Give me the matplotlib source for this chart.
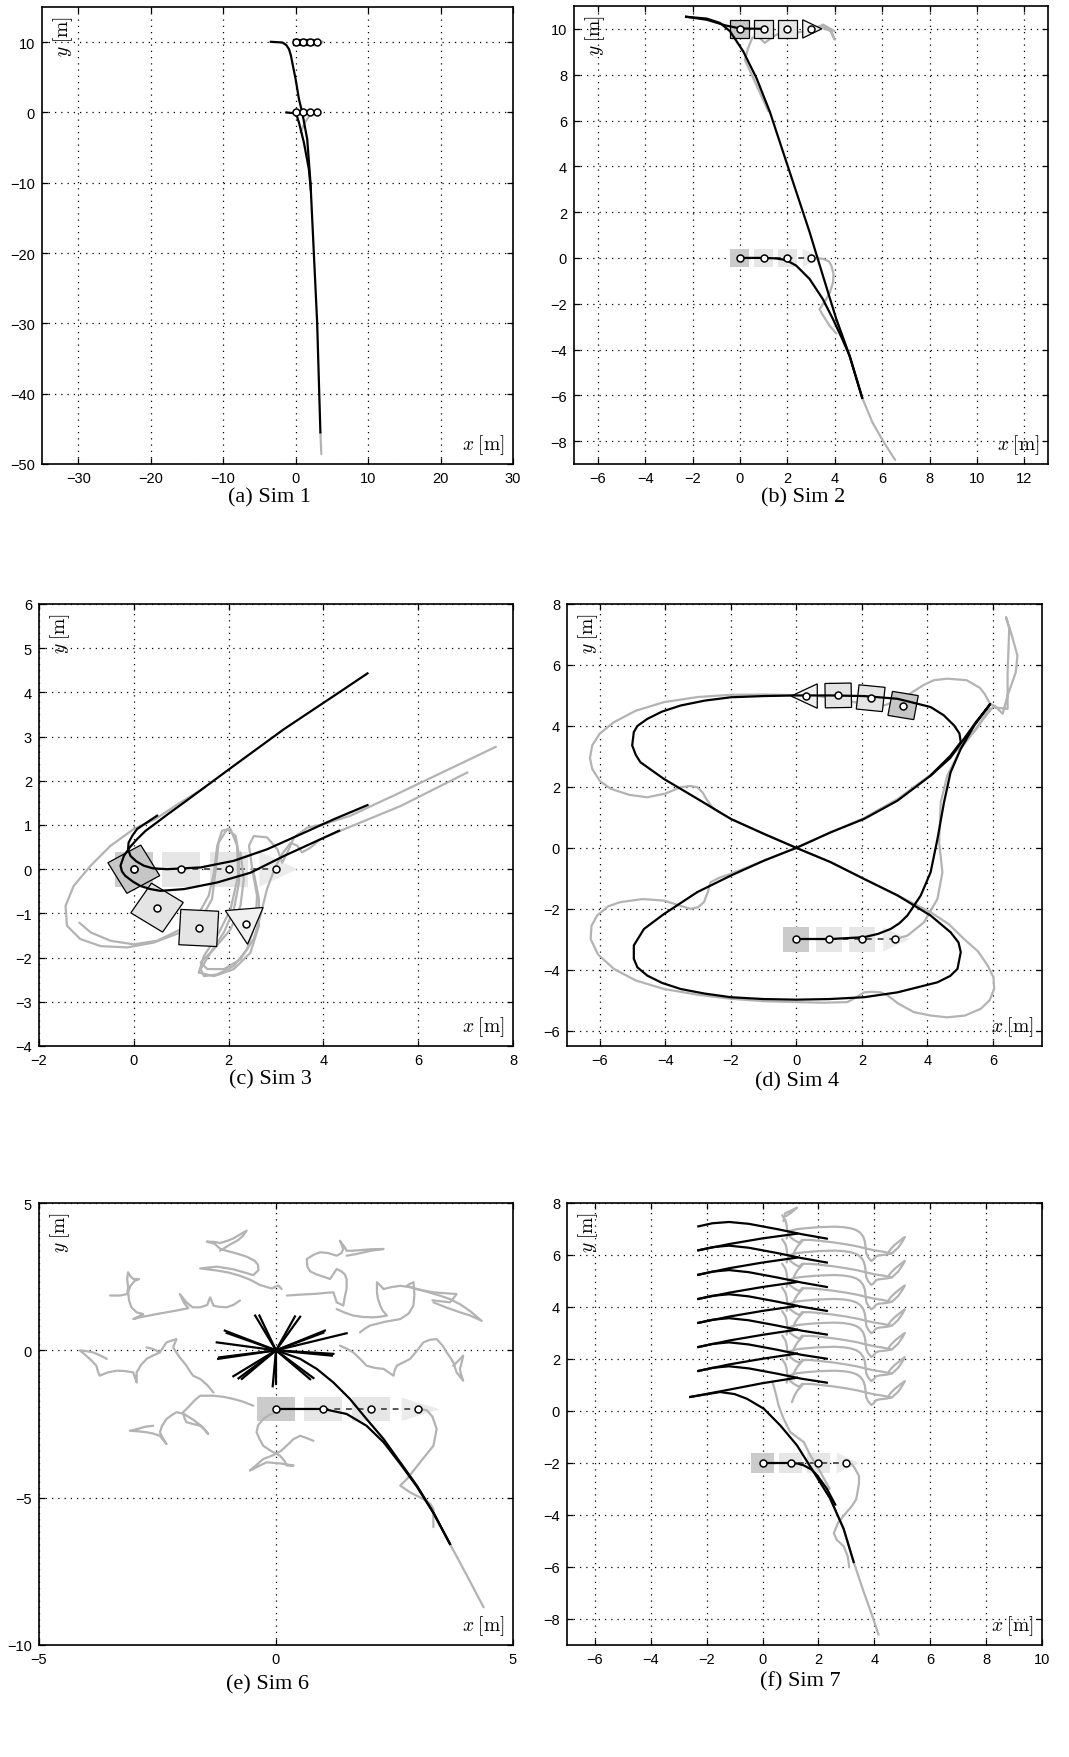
import numpy as np
import matplotlib
matplotlib.use("Agg")
import matplotlib.pyplot as plt
from matplotlib.patches import Polygon

plt.rcParams['font.family'] = ['Liberation Sans', 'DejaVu Sans']
plt.rcParams['mathtext.fontset'] = 'cm'

GRAY = '#b3b3b3'
LW = 1.6

# ---------------- (a) Sim 1 ----------------
a_black1_x = [-3.42, -1.83, -1.3, -0.91, -0.65, -0.46, 0.0, 0.46, 0.91, 1.6, 2.05, 2.51, 2.97, 3.42]
a_black1_y = [10.05, 9.95, 9.6, 9.0, 8.1, 7.1, 4.74, 1.9, 0.0, -3.79, -9.95, -19.9, -29.86, -45.5]
a_black2_x = [-1.28, -0.23, 0.2, 0.46, 1.14, 1.83, 2.1]
a_black2_y = [0.0, -0.1, -0.6, -1.42, -4.27, -8.06, -11.0]
a_gray1_x = [3.42, 3.55]
a_gray1_y = [-45.5, -48.6]
a_gray2_x = [0.2, 1.0, 2.0, 3.0, 3.6, 3.2, 2.5, 3.7]
a_gray2_y = [9.6, 10.3, 10.2, 10.1, 9.9, 9.6, 9.8, 10.1]
a_gray3_x = [0.68, 1.2, 1.8, 2.3, 2.9, 3.3]
a_gray3_y = [-2.84, -1.6, -0.6, 0.0, 0.3, 0.1]
a_init = ([0, 1, 2, 3], [0, 0, 0, 0], [0, 0, 0, 0])
a_final = ([0, 1, 2, 3], [10, 10, 10, 10], [0, 0, 0, 0])

# ---------------- (b) Sim 2 ----------------
b_black1_x = [-2.27, -1.4, -0.84, -0.42, 0.14, 0.70, 1.26, 1.82, 2.38, 2.94, 3.50, 4.07, 4.63, 5.16]
b_black1_y = [10.53, 10.45, 10.26, 9.90, 9.02, 7.85, 6.39, 4.63, 2.88, 1.13, -0.77, -2.68, -4.28, -6.11]
b_black2_x = [-2.27, -1.4, -0.6, 0.0, 1.1]
b_black2_y = [10.53, 10.4, 10.15, 10.02, 10.0]
b_black3_x = [0.0, 0.98, 1.5, 1.82, 2.1, 2.38, 2.94, 3.5, 3.93, 4.3, 4.63, 5.16]
b_black3_y = [0.0, 0.0, -0.02, -0.07, -0.18, -0.34, -0.92, -1.8, -2.68, -3.5, -4.28, -6.11]
b_gray1_x = [4.07, 4.63, 5.16, 5.6, 6.1, 6.55]
b_gray1_y = [-2.68, -4.28, -6.11, -7.2, -8.1, -8.82]
b_gray2_x = [3.0, 3.5, 3.75, 3.86, 3.95, 3.93, 3.8, 3.64, 3.36, 3.5, 3.79, 4.07]
b_gray2_y = [0.0, -0.04, -0.15, -0.34, -0.7, -1.07, -1.5, -1.8, -2.24, -2.5, -2.97, -3.3]
b_gray3_x = [1.2, 0.85, 0.5, 0.21, 0.35, 0.53, 0.84, 1.05, 1.19, 1.54, 2.24, 2.8, 3.36, 3.79, 4.0, 3.86, 3.5, 3.08, 3.5, 4.0]
b_gray3_y = [6.4, 7.2, 8.0, 8.65, 9.17, 9.63, 9.6, 9.39, 9.5, 9.75, 9.82, 9.9, 10.12, 9.97, 9.53, 9.9, 10.04, 9.9, 10.19, 9.9]
b_init = ([0, 1, 2, 3], [0, 0, 0, 0], [0, 0, 0, 0])
b_final = ([0, 1, 2, 3], [10, 10, 10, 10], [0, 0, 0, 0])

# ---------------- (c) Sim 3 ----------------
c_black1_x = [4.93, 4.22, 3.17, 2.11, 1.06, 0.7, 0.49, 0.25, 0.07, -0.08, -0.21, -0.28, -0.25, -0.18, -0.02, 0.14,
              0.35, 0.56, 1.06, 1.76, 2.46, 3.17, 4.33]
c_black1_y = [4.43, 3.92, 3.17, 2.34, 1.51, 1.23, 1.06, 0.87, 0.68, 0.5, 0.30, 0.08, -0.05, -0.15, -0.28, -0.38,
              -0.45, -0.49, -0.45, -0.30, -0.08, 0.30, 0.87]
c_black2_x = [4.93, 4.22, 3.52, 2.81, 2.11, 1.41, 0.70, 0.4, 0.21, 0.05, -0.07, -0.12, -0.11, -0.03, 0.07, 0.49]
c_black2_y = [1.45, 1.13, 0.79, 0.45, 0.19, 0.04, 0.00, 0.02, 0.08, 0.18, 0.30, 0.45, 0.60, 0.76, 0.91, 1.21]
c_gray1_x = [1.5, 0.9, 0.45, 0.0, -0.49, -0.91, -1.27, -1.44, -1.41, -1.13, -0.7, -0.14, 0.42, 0.99, 1.41, 1.65,
             1.72, 1.79, 1.97, 2.15, 2.22, 2.22, 2.11, 1.9, 1.62, 1.41, 1.48, 1.76, 2.11, 2.39, 2.57, 2.6, 2.5,
             2.43, 2.53, 2.81, 3.03, 3.13, 3.24, 3.38, 3.66, 4.01, 4.57, 5.63, 7.64]
c_gray1_y = [1.85, 1.45, 1.13, 0.91, 0.53, 0.08, -0.38, -0.83, -1.28, -1.58, -1.74, -1.77, -1.66, -1.43, -1.13,
             -0.68, -0.08, 0.6, 0.91, 0.75, 0.3, -0.3, -0.91, -1.43, -1.89, -2.26, -2.42, -2.38, -2.19, -1.81,
             -1.21, -0.6, 0.0, 0.53, 0.75, 0.72, 0.45, 0.15, 0.38, 0.72, 0.94, 1.02, 1.21, 1.74, 2.77]
c_gray2_x = [7.04, 5.63, 4.36, 3.94, 3.73, 3.55, 3.45, 3.31, 3.1, 2.95, 2.81, 2.67, 2.53, 2.25, 1.9, 1.55, 1.41,
             1.69, 2.04, 2.25, 2.32, 2.25]
c_gray2_y = [2.19, 1.43, 0.87, 0.68, 0.49, 0.38, 0.53, 0.6, 0.3, -0.05, -0.45, -1.06, -1.58, -2.04, -2.26, -2.26,
             -2.11, -1.81, -1.36, -0.83, -0.23, 0.38]
c_gray3_x = [-1.15, -0.91, -0.49, 0.0, 0.49, 0.99, 1.34, 1.58, 1.69, 1.76, 1.86, 2.04, 2.18, 2.2, 2.04, 1.76,
             1.48, 1.37, 1.69, 2.11, 2.46, 2.64, 2.64, 2.53]
c_gray3_y = [-1.21, -1.43, -1.62, -1.7, -1.62, -1.36, -1.06, -0.6, -0.08, 0.53, 0.87, 0.91, 0.53, -0.15, -0.91,
             -1.51, -1.96, -2.34, -2.42, -2.26, -1.89, -1.28, -0.68, -0.08]
c_init = ([0, 1, 2, 3], [0, 0, 0, 0], [0, 0, 0, 0])
c_final = ([0.0, 0.49, 1.37, 2.36], [0.0, -0.87, -1.33, -1.25], [30, -33, -3, -85])

# ---------------- (d) Sim 4 ----------------
d_eight_x = [0, 1.05, 2.07, 3.09, 4.1, 4.71, 5.02, 4.98, 4.82, 4.5, 4.1, 3.09, 2.07, 1.05, 0, -1.0, -2.0, -2.8,
             -3.53, -4.1, -4.55, -4.85, -4.96, -5.01, -4.9, -4.76, -4.04, -3.02, -2.0, -0.99, 0, 1.05, 2.07, 3.09,
             4.1, 4.71, 4.95, 5.02, 4.92, 4.7, 4.31, 3.09, 2.07, 1.0, 0, -1.0, -2.0, -2.8, -3.53, -4.1, -4.55,
             -4.85, -4.96, -4.96, -4.65, -4.04, -3.02, -2.0, -0.99, 0]
d_eight_y = [0, 0.51, 0.95, 1.55, 2.37, 3.03, 3.47, 3.75, 4.01, 4.35, 4.62, 4.89, 4.98, 5.0, 5.0, 4.98, 4.94,
             4.83, 4.67, 4.47, 4.23, 4.0, 3.8, 3.36, 3.05, 2.81, 2.26, 1.61, 0.95, 0.46, 0, -0.47, -1.02, -1.56,
             -2.22, -2.77, -3.1, -3.42, -3.97, -4.2, -4.41, -4.74, -4.9, -4.96, -4.98, -4.96, -4.9, -4.78, -4.63,
             -4.43, -4.19, -3.92, -3.64, -3.2, -2.66, -2.17, -1.45, -0.91, -0.42, 0]
d_start_x = [0, 1.05, 2.07, 2.5, 2.88, 3.15, 3.39, 3.8, 4.1, 4.31, 4.51, 4.71, 5.02, 5.43, 5.92, 5.5, 5.1, 4.7, 4.1]
d_start_y = [-2.99, -2.99, -2.93, -2.82, -2.66, -2.47, -2.22, -1.56, -0.8, 0.3, 1.5, 2.48, 3.25, 4.01, 4.72, 4.15,
             3.55, 2.95, 2.37]
d_gray_x = [3.01, 3.39, 3.9, 4.31, 4.46, 4.36, 4.41, 4.61, 5.02, 5.63, 6.04, 6.3, 6.45, 6.7, 6.75, 6.55, 6.4, 6.5,
            6.45, 6.45, 6.1, 5.9, 5.75, 5.6, 5.2, 4.61, 4.2, 3.9, 3.6, 3.4, 3.0, 2.7, 2.4, 2.0, 1.5, 0.5, -1.0,
            -2.0, -3.0, -4.04, -4.9, -5.57, -6.0, -6.23, -6.3, -6.23, -6.0, -5.67, -5.1, -4.55, -4.0, -3.53,
            -3.25, -3.02, -2.85, -2.75, -2.6, -2.52, -2.0, -0.99, 0, 1.05, 2.07, 3.09, 4.1, 4.65, 5.12, 5.55,
            5.84, 6.02, 6.04, 5.9, 5.63, 5.15, 4.61, 4.1, 3.59, 3.1, 2.8, 2.58, 2.3, 2.07, 1.8, 1.56, 0.8, 0.03,
            -1.0, -2.0, -3.0, -4.04, -4.9, -5.57, -6.05, -6.28, -6.25, -6.08, -5.75, -5.37, -4.7, -4.04, -3.6,
            -3.23, -3.0, -2.82, -2.7, -2.62, -2.35, -2.0, -0.99, 0, 1.05, 2.07, 3.09, 4.1, 4.9, 5.5, 5.9]
d_gray_y = [-2.99, -2.88, -2.44, -1.67, -0.8, 0.19, 1.5, 2.37, 3.25, 4.12, 4.67, 4.4, 5.0, 5.76, 6.31, 7.08,
            7.57, 7.2, 5.76, 4.56, 4.6, 4.75, 5.05, 5.25, 5.5, 5.55, 5.5, 5.35, 5.15, 5.0, 4.8, 4.68, 4.65, 4.72,
            4.85, 5.0, 5.03, 5.02, 4.95, 4.78, 4.5, 4.12, 3.75, 3.36, 2.95, 2.59, 2.2, 1.94, 1.74, 1.66, 1.78,
            1.99, 2.03, 1.99, 1.8, 1.61, 1.38, 1.28, 0.95, 0.46, 0, -0.47, -1.02, -1.56, -2.11, -2.5, -2.99,
            -3.4, -3.86, -4.25, -4.63, -5.0, -5.28, -5.5, -5.56, -5.5, -5.39, -5.1, -4.85, -4.74, -4.72, -4.74,
            -4.92, -5.06, -5.08, -5.06, -5.03, -4.95, -4.82, -4.63, -4.35, -3.97, -3.5, -2.99, -2.55, -2.22,
            -1.92, -1.78, -1.68, -1.73, -1.88, -2.0, -1.95, -1.78, -1.45, -1.13, -0.98, -0.85, -0.42, 0, 0.51,
            0.98, 1.6, 2.4, 3.2, 3.9, 4.6]
d_init = ([0, 1, 2, 3], [-3, -3, -3, -3], [0, 0, 0, 0])
d_final = ([3.26, 2.27, 1.28, 0.29], [4.67, 4.91, 5.0, 4.98], [-10, -6, 1, 180])

# ---------------- (e) Sim 6 ----------------
e_star_x = [-0.44, -0.35, 0.40, 0.51, -1.08, -1.04, -1.25, 1.03, 1.00, 1.49, 1.21, 1.18, -1.22, -1.20, -0.90,
            -0.79, -0.72, 0.79, 0.72, -0.07, 0.00]
e_star_y = [1.18, 1.18, 1.15, 1.14, 0.67, 0.59, 0.27, 0.67, 0.60, 0.58, -0.12, -0.18, -0.29, -0.24, -0.88,
            -0.95, -0.97, -0.94, -0.98, -1.22, -1.14]
e_black1_x = [0, 0.51, 0.86, 1.21, 1.56, 1.91, 2.27, 2.62, 2.97, 3.32, 3.67]
e_black1_y = [0, -0.29, -0.63, -1.09, -1.65, -2.33, -3.01, -3.80, -4.59, -5.50, -6.57]
e_black2_x = [0, 1.0, 1.49, 1.91, 2.27, 2.62, 2.97, 3.32, 3.67]
e_black2_y = [-1.99, -1.99, -2.16, -2.56, -3.12, -3.85, -4.62, -5.52, -6.57]
e_gray_paths = [
    [(-0.76, 1.69), (-0.9, 1.54), (-1.04, 1.46), (-1.22, 1.48), (-1.32, 1.52), (-1.39, 1.8), (-1.45, 1.54),
     (-1.6, 1.46), (-1.76, 1.46), (-1.89, 1.63), (-2.03, 1.91), (-1.94, 1.61), (-1.85, 1.43), (-2.1, 1.35),
     (-2.52, 1.23), (-2.87, 1.12), (-3.01, 1.06), (-2.8, 1.23), (-2.94, 1.29), (-3.05, 1.46), (-3.1, 1.69),
     (-3.12, 1.97), (-3.07, 2.19), (-2.98, 2.36), (-2.89, 2.42), (-3.01, 2.42), (-3.08, 2.53), (-3.12, 2.65),
     (-3.14, 2.42), (-3.12, 2.14), (-3.14, 1.91), (-3.29, 1.86), (-3.5, 1.86)],
    [(0.12, 2.08), (0.05, 2.2), (-0.09, 2.1), (-0.2, 2.15), (-0.34, 2.22), (-0.55, 2.4), (-0.76, 2.53),
     (-1.0, 2.64), (-1.25, 2.71), (-1.6, 2.78), (-1.25, 2.84), (-0.9, 2.75), (-0.62, 2.62), (-0.48, 2.55),
     (-0.37, 2.72), (-0.38, 2.9), (-0.45, 3.04), (-0.62, 3.18), (-0.86, 3.3), (-1.05, 3.38), (-1.18, 3.45),
     (-1.3, 3.62), (-1.46, 3.69), (-1.3, 3.68), (-1.18, 3.64), (-1.02, 3.72), (-0.9, 3.8), (-0.74, 3.95),
     (-0.62, 4.06), (-0.7, 3.88), (-0.8, 3.74), (-0.98, 3.58), (-1.18, 3.38)],
    [(0.23, 1.86), (0.51, 1.89), (0.86, 1.92), (1.05, 1.95), (1.21, 1.97), (1.25, 1.78), (1.28, 1.63),
     (1.42, 1.52), (1.45, 1.8), (1.49, 2.1), (1.49, 2.42), (1.45, 2.58), (1.38, 2.68), (1.28, 2.76), (1.14, 2.42),
     (1.0, 2.5), (0.85, 2.58), (0.72, 2.68), (0.66, 2.85), (0.65, 3.1), (0.8, 3.25), (0.93, 3.33), (1.1, 3.3),
     (1.28, 3.21), (1.38, 3.3), (1.42, 3.44), (1.35, 3.72), (1.45, 3.5), (1.49, 3.38), (1.62, 3.38), (1.77, 3.4),
     (2.0, 3.43), (2.27, 3.44), (2.0, 3.38), (1.7, 3.27), (1.49, 3.21)],
    [(1.28, 1.4), (1.45, 1.28), (1.63, 1.18), (1.85, 1.13), (2.05, 1.12), (2.2, 1.14), (2.34, 1.18), (2.25, 1.35),
     (2.2, 1.52), (2.15, 1.75), (2.13, 1.97), (2.13, 2.31), (2.2, 2.2), (2.27, 2.08), (2.45, 2.15), (2.62, 2.19),
     (2.8, 2.15), (2.97, 2.08), (3.15, 2.02), (3.32, 1.97), (3.55, 1.94), (3.81, 1.91), (3.75, 1.78), (3.67, 1.63),
     (3.5, 1.66), (3.3, 1.7)],
    [(1.77, 0.61), (1.88, 0.74), (1.98, 0.84), (2.3, 0.97), (2.62, 1.06), (2.8, 1.25), (2.9, 1.52), (2.92, 1.9),
     (2.9, 2.31), (2.82, 2.25), (2.76, 2.19), (2.87, 2.13), (2.97, 2.08), (3.2, 1.98), (3.45, 1.86), (3.67, 1.74),
     (3.9, 1.55), (4.12, 1.3), (4.34, 1.0), (4.1, 1.18), (3.88, 1.29), (3.6, 1.45), (3.32, 1.63)],
    [(1.35, 0.16), (1.5, 0.05), (1.63, -0.07), (1.78, -0.3), (1.91, -0.52), (2.1, -0.6), (2.27, -0.63),
     (2.38, -0.75), (2.48, -0.86), (2.5, -0.7), (2.55, -0.52), (2.7, -0.4), (2.83, -0.29), (2.97, -0.02),
     (3.11, 0.27), (3.25, 0.36), (3.39, 0.38), (3.52, 0.15), (3.6, -0.07), (3.68, -0.25), (3.74, -0.41),
     (3.78, -0.6), (3.81, -0.75), (3.95, -1.03), (3.9, -0.8), (3.88, -0.63), (3.92, -0.4), (3.95, -0.18),
     (3.85, -0.35), (3.74, -0.52)],
    [(-1.32, -1.43), (-1.45, -1.18), (-1.6, -0.97), (-1.75, -0.86), (-1.82, -0.7), (-1.89, -0.52), (-2.05, -0.2),
     (-2.17, 0.1), (-2.1, 0.38), (-2.2, 0.33), (-2.31, 0.27), (-2.38, 0.1), (-2.45, -0.07), (-2.6, -0.18),
     (-2.73, -0.29), (-2.85, -0.5), (-2.94, -0.75), (-2.94, -1.09), (-2.98, -0.9), (-3.01, -0.75), (-3.2, -0.7),
     (-3.36, -0.69), (-3.55, -0.75), (-3.72, -0.86), (-3.76, -0.7), (-3.79, -0.52), (-3.86, -0.4),
     (-3.93, -0.29), (-4.05, -0.12), (-4.14, 0.0), (-4.0, -0.03), (-3.86, -0.07), (-3.7, -0.18), (-3.57, -0.29)],
    [(-2.73, 0.1), (-2.6, 0.05), (-2.45, -0.07)],
    [(-0.48, -1.88), (-0.7, -1.74), (-0.9, -1.65), (-1.1, -1.58), (-1.32, -1.54), (-1.6, -1.54), (-1.72, -1.7),
     (-1.82, -1.88), (-1.96, -2.1), (-1.93, -2.3), (-1.89, -2.44), (-1.75, -2.5), (-1.6, -2.56), (-1.5, -2.7),
     (-1.43, -2.84), (-1.55, -2.6), (-1.75, -2.35), (-1.95, -2.15), (-2.1, -2.1), (-2.2, -2.2), (-2.31, -2.33),
     (-2.4, -2.55), (-2.45, -2.78), (-2.38, -3.0), (-2.31, -3.18), (-2.4, -3.0), (-2.45, -2.9), (-2.6, -2.82),
     (-2.73, -2.78), (-2.9, -2.75), (-3.08, -2.73), (-2.9, -2.66), (-2.8, -2.61), (-2.7, -2.58), (-2.59, -2.56)],
    [(0.01, -2.1), (-0.15, -2.2), (-0.27, -2.33), (-0.38, -2.55), (-0.41, -2.78), (-0.35, -3.0), (-0.27, -3.24),
     (-0.1, -3.42), (0.08, -3.57), (0.18, -3.75), (0.23, -3.91), (0.37, -3.91), (0.1, -3.84), (-0.2, -3.8),
     (-0.34, -3.91), (-0.55, -4.08), (-0.42, -3.9), (-0.27, -3.69), (-0.05, -3.55), (0.1, -3.42), (0.25, -3.2),
     (0.37, -3.01), (0.51, -2.9), (0.65, -2.98), (0.79, -3.07)],
    [(3.0, -1.99), (3.18, -2.03), (3.3, -2.25), (3.39, -2.67), (3.32, -3.24), (3.18, -3.52), (3.04, -3.8),
     (2.76, -4.37), (2.62, -4.59), (2.83, -4.82), (3.11, -5.05), (3.25, -5.2), (3.32, -5.38), (3.32, -6.0)],
    [(2.62, -3.8), (2.97, -4.59), (3.32, -5.5), (3.67, -6.57), (4.03, -7.65), (4.38, -8.72)],
]
e_init = ([0, 1, 2, 3], [-2, -2, -2, -2], [0, 0, 0, 0])

# ---------------- (f) Sim 7 ----------------
f_curve_x = [-2.3, -1.8, -1.2, -0.5, 0.5, 1.4, 2.3]
f_curve_y = [
    [7.10, 7.22, 7.27, 7.20, 7.00, 6.80, 6.63],
    [6.18, 6.30, 6.36, 6.28, 6.08, 5.88, 5.71],
    [5.24, 5.36, 5.42, 5.34, 5.14, 4.94, 4.77],
    [4.31, 4.43, 4.49, 4.41, 4.21, 4.01, 3.85],
    [3.39, 3.51, 3.57, 3.49, 3.29, 3.09, 2.94],
    [2.46, 2.58, 2.64, 2.56, 2.36, 2.16, 2.01],
    [1.54, 1.66, 1.72, 1.64, 1.44, 1.24, 1.09],
]
f_rise_x = [-2.3, -1.2, 0.0, 1.23]
f_rise_y = [
    [6.18, 6.42, 6.64, 6.82],
    [5.24, 5.49, 5.71, 5.90],
    [4.31, 4.55, 4.77, 4.96],
    [3.39, 3.63, 3.85, 4.04],
    [2.46, 2.71, 2.93, 3.13],
    [1.54, 1.79, 2.01, 2.21],
]
f_low_rise_x = [-2.59, -1.2, 0.0, 1.23]
f_low_rise_y = [0.54, 0.82, 1.07, 1.28]
f_low_x = [-2.59, -1.52, -1.0, -0.56, 0.04, 0.63, 1.23, 1.83, 2.42, 2.9, 3.26]
f_low_y = [0.54, 0.73, 0.65, 0.47, 0.09, -0.55, -1.32, -2.35, -3.37, -4.53, -5.81]
f_form_x = [0.0, 0.99, 1.25, 1.47, 1.75, 1.95, 2.3, 2.6]
f_form_y = [-2.0, -2.0, -2.02, -2.09, -2.25, -2.47, -2.99, -3.6]
f_levels = [6.63, 5.71, 4.77, 3.85, 2.94, 2.01, 1.09]
f_leaf_x = [0.86, 0.9, 0.97, 1.2, 1.54, 2.0, 2.57, 2.9, 3.14, 3.35, 3.49, 3.6, 3.66, 3.69, 3.71, 3.78, 3.89, 3.97,
            4.06, 4.18, 4.29, 4.45, 4.63, 4.85, 5.0, 5.09, 4.95, 4.74, 4.6, 4.51]
f_leaf_dy = [0.0, 0.15, 0.29, 0.36, 0.4, 0.44, 0.46, 0.44, 0.4, 0.33, 0.23, 0.08, -0.11, -0.35, -0.57, -0.72,
             -0.86, -0.8, -0.68, -0.64, -0.63, -0.61, -0.57, -0.35, -0.12, 0.06, -0.05, -0.23, -0.38, -0.51]
f_arc_x = [1.4, 1.7, 2.0, 2.5, 3.0, 3.4, 3.7, 4.0, 4.3, 4.6]
f_arc_dy = [-0.05, -0.05, -0.08, -0.14, -0.22, -0.3, -0.38, -0.45, -0.5, -0.57]
f_barb_x = [0.7, 0.76, 0.82, 0.86, 0.88, 0.93, 1.0, 1.15, 1.3, 1.45, 1.35, 1.25, 1.18, 1.12, 1.05]
f_barb_dy = [0.9, 0.8, 0.7, 0.52, 0.35, 0.18, 0.05, -0.07, -0.15, -0.05, -0.18, -0.3, -0.42, -0.55, -0.75]
f_gray_top_x = [0.75, 0.8, 1.0, 1.23, 1.05, 0.85]
f_gray_top_y = [7.3, 7.6, 7.7, 7.82, 7.65, 7.5]
f_gray_mid_x = [0.35, 0.39, 0.5, 0.57, 0.75, 0.99, 1.25, 1.47, 1.71, 2.07, 2.4]
f_gray_mid_y = [1.1, 0.99, 0.55, 0.22, -0.29, -0.81, -1.02, -1.19, -1.71, -2.35, -3.0]
f_gray_f_x = [3.0, 3.2, 3.3, 3.45, 3.45, 3.35, 3.2, 3.0, 2.7, 2.55, 2.65, 2.9, 3.05, 3.1]
f_gray_f_y = [-2.0, -2.05, -2.2, -2.5, -2.8, -3.4, -3.65, -3.9, -4.3, -4.7, -4.95, -5.2, -5.6, -6.0]
f_gray_tail_x = [2.42, 2.9, 3.26, 3.6, 3.9, 4.15]
f_gray_tail_y = [-3.37, -4.53, -5.81, -6.9, -7.8, -8.6]
f_init = ([0, 1, 2, 3], [-2, -2, -2, -2], [0, 0, 0, 0])


def square(ax, x, y, ang, fc, ec, z):
    t = np.deg2rad(ang)
    c, s = np.cos(t), np.sin(t)
    loc = [(-0.4, -0.4), (0.4, -0.4), (0.4, 0.4), (-0.4, 0.4)]
    pts = [(x + c * u - s * v, y + s * u + c * v) for u, v in loc]
    ax.add_patch(Polygon(pts, closed=True, fc=fc, ec=ec, lw=0.9, zorder=z))


def triangle(ax, x, y, ang, fc, ec, z):
    t = np.deg2rad(ang)
    c, s = np.cos(t), np.sin(t)
    loc = [(0.45, 0.0), (-0.35, 0.4), (-0.35, -0.4)]
    pts = [(x + c * u - s * v, y + s * u + c * v) for u, v in loc]
    ax.add_patch(Polygon(pts, closed=True, fc=fc, ec=ec, lw=0.9, zorder=z))


def formation(ax, form, final):
    xs, ys, angs = form
    if final:
        fills, ec, z = ['#c6c6c6', '#e4e4e4', '#e4e4e4', '#f0f0f0'], 'black', 3
    else:
        fills, ec, z = ['#cbcbcb', '#e6e6e6', '#e6e6e6', '#ebebeb'], 'none', 1.5
        ax.plot(xs, ys, color='#555555', lw=1.4, dashes=(3, 3), zorder=1.6)
    for i in range(4):
        if i < 3:
            square(ax, xs[i], ys[i], angs[i], fills[i], ec, z)
        else:
            triangle(ax, xs[i], ys[i], angs[i], fills[i], ec, z)
    ax.plot(xs, ys, 'o', ls='none', ms=5, mfc='white', mec='black', mew=1.1, zorder=6)


def style(ax, xlim, ylim, xt, yt):
    ax.set_xlim(*xlim)
    ax.set_ylim(*ylim)
    ax.set_xticks(xt)
    ax.set_yticks(yt)
    ax.set_axisbelow(True)
    ax.grid(True, color='black', lw=0.9, linestyle=(0, (1, 4)))
    ax.tick_params(direction='in', top=True, right=True, length=4, width=0.9, labelsize=10.5, pad=5)
    for sp in ax.spines.values():
        sp.set_linewidth(1.2)
    ax.annotate(r'$x\;[\mathrm{m}]$', xy=(1, 0), xycoords='axes fraction', xytext=(-8, 8),
                textcoords='offset pixels', ha='right', va='bottom', fontsize=14)
    ax.annotate(r'$y\;[\mathrm{m}]$', xy=(0, 1), xycoords='axes fraction', xytext=(21, -8),
                textcoords='offset pixels', ha='center', va='top', fontsize=14, rotation=90)


def gray(ax, x, y):
    ax.plot(x, y, color=GRAY, lw=LW, zorder=2, solid_joinstyle='round', solid_capstyle='round')


def black(ax, x, y):
    ax.plot(x, y, color='black', lw=LW, zorder=4, solid_joinstyle='round')


W, H = 1069, 1758
fig = plt.figure(figsize=(W / 100, H / 100), dpi=100)


def axes_px(l, r, t, b):
    return fig.add_axes([l / W, 1 - b / H, (r - l) / W, (b - t) / H])


def caption(x, y, s):
    fig.text(x / W, 1 - y / H, s, ha='center', va='center', fontsize=16,
             family=['Liberation Serif', 'DejaVu Serif'])


# (a)
ax = axes_px(42, 513, 8, 465)
style(ax, (-35, 30), (-50, 15), range(-30, 31, 10), range(-50, 11, 10))
formation(ax, a_init, False)
gray(ax, a_gray1_x, a_gray1_y)
gray(ax, a_gray2_x, a_gray2_y)
gray(ax, a_gray3_x, a_gray3_y)
formation(ax, a_final, True)
black(ax, a_black1_x, a_black1_y)
black(ax, a_black2_x, a_black2_y)
caption(270, 498, '(a) Sim 1')

# (b)
ax = axes_px(574, 1048, 7, 465)
style(ax, (-7, 13), (-9, 11), range(-6, 13, 2), range(-8, 11, 2))
formation(ax, b_init, False)
gray(ax, b_gray1_x, b_gray1_y)
gray(ax, b_gray2_x, b_gray2_y)
gray(ax, b_gray3_x, b_gray3_y)
formation(ax, b_final, True)
black(ax, b_black1_x, b_black1_y)
black(ax, b_black2_x, b_black2_y)
black(ax, b_black3_x, b_black3_y)
caption(803, 498, '(b) Sim 2')

# (c)
ax = axes_px(39, 513, 605, 1047)
style(ax, (-2, 8), (-4, 6), range(-2, 9, 2), range(-4, 7, 1))
formation(ax, c_init, False)
gray(ax, c_gray1_x, c_gray1_y)
gray(ax, c_gray2_x, c_gray2_y)
gray(ax, c_gray3_x, c_gray3_y)
formation(ax, c_final, True)
black(ax, c_black1_x, c_black1_y)
black(ax, c_black2_x, c_black2_y)
caption(270, 1080, '(c) Sim 3')

# (d)
ax = axes_px(567, 1042, 605, 1047)
style(ax, (-7, 7.5), (-6.5, 8), range(-6, 7, 2), range(-6, 9, 2))
formation(ax, d_init, False)
gray(ax, d_gray_x, d_gray_y)
formation(ax, d_final, True)
black(ax, d_eight_x, d_eight_y)
black(ax, d_start_x, d_start_y)
caption(797, 1082, '(d) Sim 4')

# (e)
ax = axes_px(39, 513, 1204, 1646)
style(ax, (-5, 5), (-10, 5), [-5, 0, 5], [-10, -5, 0, 5])
formation(ax, e_init, False)
for path in e_gray_paths:
    gray(ax, [p[0] for p in path], [p[1] for p in path])
for sx, sy in zip(e_star_x, e_star_y):
    black(ax, [0, sx], [0, sy])
black(ax, e_black1_x, e_black1_y)
black(ax, e_black2_x, e_black2_y)
caption(268, 1685, '(e) Sim 6')

# (f)
ax = axes_px(567, 1042, 1204, 1646)
style(ax, (-7, 10), (-9, 8), range(-6, 11, 2), range(-8, 9, 2))
formation(ax, f_init, False)
for lv in f_levels:
    gray(ax, f_leaf_x, [lv + d for d in f_leaf_dy])
    gray(ax, f_arc_x, [lv + d for d in f_arc_dy])
    gray(ax, f_barb_x, [lv + d for d in f_barb_dy])
gray(ax, f_gray_top_x, f_gray_top_y)
gray(ax, f_gray_mid_x, f_gray_mid_y)
gray(ax, f_gray_f_x, f_gray_f_y)
gray(ax, f_gray_tail_x, f_gray_tail_y)
for cy in f_curve_y:
    black(ax, f_curve_x, cy)
for ry in f_rise_y:
    black(ax, f_rise_x, ry)
black(ax, f_low_rise_x, f_low_rise_y)
black(ax, f_low_x, f_low_y)
black(ax, f_form_x, f_form_y)
caption(800, 1682, '(f) Sim 7')

fig.savefig('out.png', dpi=100)
